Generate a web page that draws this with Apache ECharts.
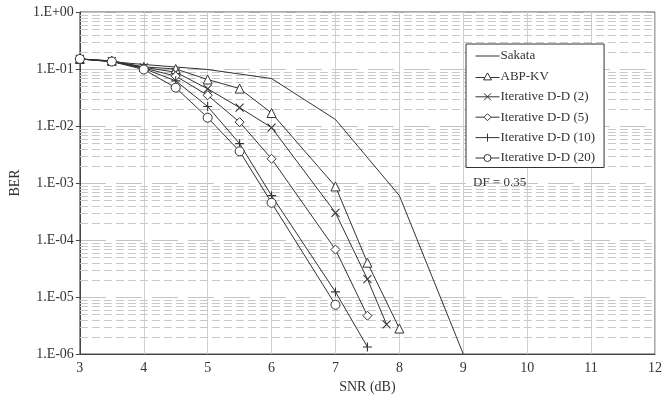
<!DOCTYPE html>
<html>
<head>
<meta charset="utf-8">
<script src="https://cdn.jsdelivr.net/npm/echarts@6/dist/echarts.min.js"></script>
<style>html,body{margin:0;padding:0;background:#fff}#c{width:665px;height:402px}</style>
</head>
<body>
<div id="c"></div>
<script>
// ---- data ----
const xTicks = [3, 4, 5, 6, 7, 8, 9, 10, 11, 12];
const yTickLabels = ['1.E-06', '1.E-05', '1.E-04', '1.E-03', '1.E-02', '1.E-01', '1.E+00'];
const yTickExponents = [-6, -5, -4, -3, -2, -1, 0];

const sakataSNR = [3, 4, 5, 6, 7, 8, 9];
const sakataBER = [0.15, 0.12, 0.098, 0.068, 0.013, 6.0e-4, 1.0e-6];

const abpSNR = [3, 3.5, 4, 4.5, 5, 5.5, 6, 7, 7.5, 8];
const abpBER = [0.15, 0.139, 0.109, 0.1, 0.0655, 0.0454, 0.0169, 8.7e-4, 4.0e-5, 2.8e-6];

const dd2SNR = [3, 3.5, 4, 4.5, 5, 5.5, 6, 7, 7.5, 7.8];
const dd2BER = [0.15, 0.138, 0.107, 0.088, 0.045, 0.021, 0.0094, 3.0e-4, 2.06e-5, 3.3e-6];

const dd5SNR = [3, 3.5, 4, 4.5, 5, 5.5, 6, 7, 7.5];
const dd5BER = [0.15, 0.137, 0.104, 0.075, 0.0346, 0.0117, 2.66e-3, 6.8e-5, 4.7e-6];

const dd10SNR = [3, 3.5, 4, 4.5, 5, 5.5, 6, 7, 7.5];
const dd10BER = [0.15, 0.136, 0.102, 0.062, 0.022, 4.9e-3, 6.0e-4, 1.23e-5, 1.33e-6];

const dd20SNR = [3, 3.5, 4, 4.5, 5, 5.5, 6, 7];
const dd20BER = [0.15, 0.135, 0.098, 0.047, 0.014, 3.6e-3, 4.5e-4, 7.3e-6];

const seriesNames = ['Sakata', 'ABP-KV', 'Iterative D-D (2)', 'Iterative D-D (5)', 'Iterative D-D (10)', 'Iterative D-D (20)'];
const dfLabel = 'DF = 0.35';

// ---- chart ----
const FONT = '"Liberation Serif", "DejaVu Serif", serif';
const INK = '#333';
const zip = (xs, ys) => xs.map((x, i) => [x, ys[i]]);

// minor grid values 2..9 x 10^k (axis gridlines)
const minorVals = [];
for (let k = -6; k < 0; k++) for (let m = 2; m <= 9; m++) minorVals.push(m * Math.pow(10, k));

const crossPath = 'path://M0,0L10,10M10,0L0,10';
const plusPath = 'path://M5,0L5,10M0,5L10,5';

// legend icons (line + marker)
const legendIcons = [
  'path://M0,0L24,0L24,1L0,1Z',
  'path://M0,4.6L9.3,4.6M14.7,4.6L24,4.6M12,0L16,7L8,7Z',
  'path://M0,3.5L24,3.5M8.5,0L15.5,7M15.5,0L8.5,7',
  'path://M0,3.5L8.5,3.5M15.5,3.5L24,3.5M12,0L15.5,3.5L12,7L8.5,3.5Z',
  'path://M0,4L24,4M12,0L12,8',
  'path://M0,3.5L8.5,3.5M15.5,3.5L24,3.5M8.5,3.5A3.5,3.5,0,1,0,15.5,3.5A3.5,3.5,0,1,0,8.5,3.5Z'
];

const openMarker = { color: '#fff', borderColor: INK, borderWidth: 1 };
const strokeMarker = { color: 'none', borderColor: INK, borderWidth: 1.1 };

function mkSeries(name, xs, ys, symbol, size, itemStyle) {
  return {
    name: name,
    type: 'line',
    data: zip(xs, ys),
    symbol: symbol,
    symbolSize: size,
    showSymbol: symbol !== 'none',
    lineStyle: { color: INK, width: 1 },
    itemStyle: itemStyle || { color: INK },
    emphasis: { disabled: true },
    animation: false,
    z: 5
  };
}

const chart = echarts.init(document.getElementById('c'), null, { renderer: 'canvas' });
chart.setOption({
  backgroundColor: '#fff',
  animation: false,
  textStyle: { fontFamily: FONT, color: INK },
  grid: { left: 78, right: 8, top: 12, bottom: 48, show: true, borderColor: '#555', borderWidth: 1 },
  xAxis: {
    type: 'value', min: 3, max: 12, interval: 1,
    name: 'SNR (dB)', nameLocation: 'middle', nameGap: 26,
    nameTextStyle: { fontFamily: FONT, fontSize: 14, color: INK },
    axisLine: { lineStyle: { color: '#444' } },
    axisTick: { show: false },
    axisLabel: { fontFamily: FONT, fontSize: 14, color: INK, margin: 7,
      formatter: v => xTicks.includes(v) ? String(v) : '' },
    splitLine: { show: true, lineStyle: { color: '#cfcfcf', width: 1 } }
  },
  yAxis: {
    type: 'log', logBase: 10, min: 1e-6, max: 1, splitNumber: 6,
    name: 'BER', nameLocation: 'middle', nameGap: 56,
    nameTextStyle: { fontFamily: FONT, fontSize: 14, color: INK },
    axisLine: { show: true, lineStyle: { color: '#444' } },
    axisTick: { show: true, inside: false, length: 4, lineStyle: { color: '#444' } },
    axisLabel: { fontFamily: FONT, fontSize: 14, color: INK, margin: 6,
      formatter: v => {
        const e = Math.round(Math.log10(v));
        const i = yTickExponents.indexOf(e);
        return i >= 0 ? yTickLabels[i] : '';
      } },
    splitLine: { show: true, lineStyle: { color: '#c4c4c4', width: 1, type: [26, 10] } }
  },
  legend: {
    data: seriesNames.map((n, i) => ({
      name: n,
      icon: legendIcons[i],
      itemStyle: i === 0
        ? { color: INK, borderWidth: 0 }
        : { color: '#fff', borderColor: INK, borderWidth: 1 }
    })),
    symbolKeepAspect: true,
    orient: 'vertical',
    left: 466, top: 44,
    padding: [5.5, 9, 3, 9],
    itemWidth: 24, itemHeight: 14, itemGap: 7.4,
    backgroundColor: '#fff',
    borderColor: '#333', borderWidth: 1,
    textStyle: { fontFamily: FONT, fontSize: 13, color: INK, padding: [0, 0, 0, -4] },
    selectedMode: false,
    z: 10
  },
  graphic: [{
    type: 'text', left: 473, top: 176, z: 100,
    style: { text: dfLabel, font: '13px ' + FONT, fill: INK }
  }],
  series: [
    {
      name: '_minorgrid', type: 'custom', silent: true, animation: false, z: 1,
      data: minorVals.map(v => [3, v]),
      encode: { x: 0, y: 1 },
      renderItem: (params, api) => {
        const cs = params.coordSys;
        const y = Math.round(api.coord([3, api.value(1)])[1]) + 0.5;
        return {
          type: 'line',
          shape: { x1: cs.x, y1: y, x2: cs.x + cs.width, y2: y },
          style: { stroke: '#c8c8c8', lineWidth: 1, lineDash: [8, 4] }
        };
      }
    },
    mkSeries(seriesNames[0], sakataSNR, sakataBER, 'none', 0),
    mkSeries(seriesNames[1], abpSNR, abpBER, 'triangle', 9, openMarker),
    mkSeries(seriesNames[2], dd2SNR, dd2BER, crossPath, 8, strokeMarker),
    mkSeries(seriesNames[3], dd5SNR, dd5BER, 'diamond', 9, openMarker),
    mkSeries(seriesNames[4], dd10SNR, dd10BER, plusPath, 9, strokeMarker),
    mkSeries(seriesNames[5], dd20SNR, dd20BER, 'circle', 9, openMarker)
  ]
});
</script>
</body>
</html>
